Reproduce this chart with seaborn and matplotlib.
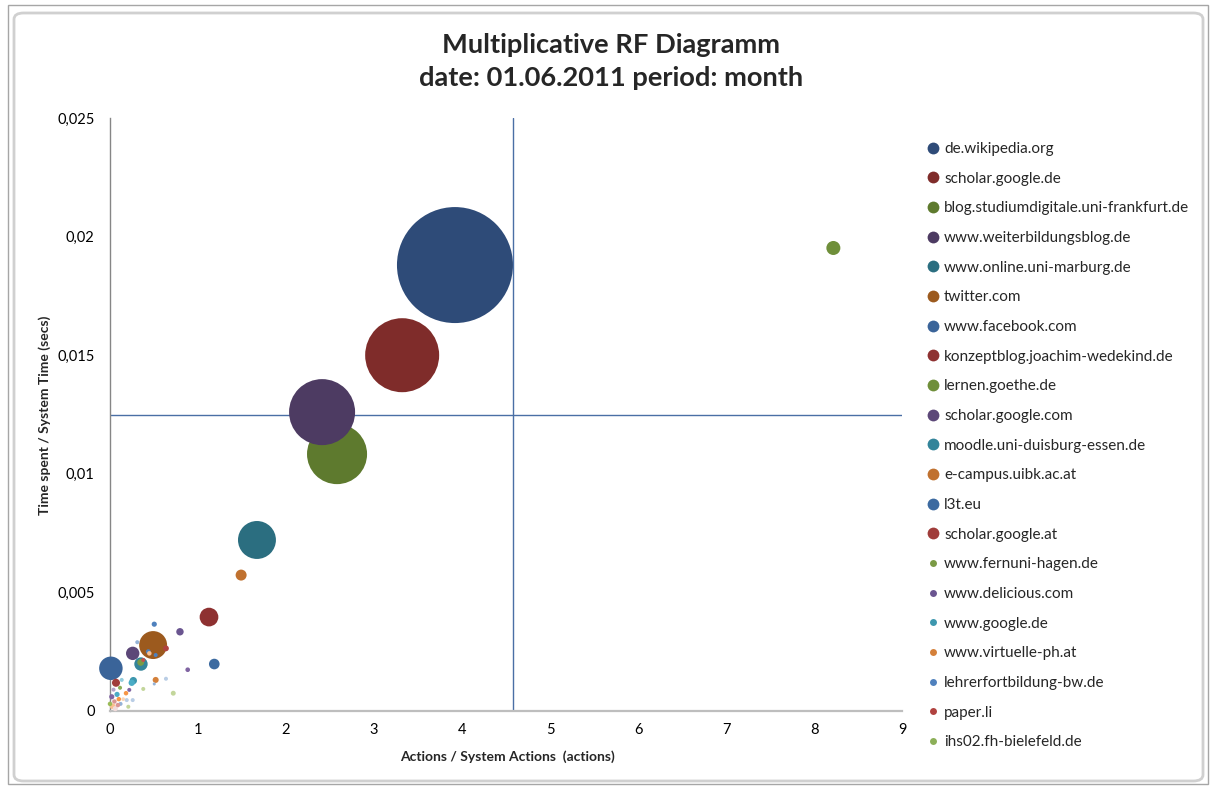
import matplotlib
matplotlib.use("Agg")
import matplotlib.pyplot as plt
from matplotlib.lines import Line2D
from matplotlib.patches import FancyBboxPatch, Rectangle
import pandas as pd
import seaborn as sns

# Named sites (legend order)
sites = [
    "de.wikipedia.org", "scholar.google.de", "blog.studiumdigitale.uni-frankfurt.de",
    "www.weiterbildungsblog.de", "www.online.uni-marburg.de", "twitter.com",
    "www.facebook.com", "konzeptblog.joachim-wedekind.de", "lernen.goethe.de",
    "scholar.google.com", "moodle.uni-duisburg-essen.de", "e-campus.uibk.ac.at",
    "l3t.eu", "scholar.google.at", "www.fernuni-hagen.de", "www.delicious.com",
    "www.google.de", "www.virtuelle-ph.at", "lehrerfortbildung-bw.de", "paper.li",
    "ihs02.fh-bielefeld.de",
]
actions_ratio = [3.92, 3.32, 2.58, 2.41, 1.67, 0.49, 0.01, 1.125, 8.22, 0.258,
                 0.352, 1.49, 1.185, 0.068, 0.349, 0.795, 0.265, 0.519, 0.503,
                 0.636, 0.114]
time_ratio = [0.0188, 0.0150, 0.01083, 0.0126, 0.00721, 0.00278, 0.00180, 0.00396,
              0.01952, 0.00243, 0.00198, 0.00573, 0.00198, 0.00119, 0.00205,
              0.00334, 0.00128, 0.00131, 0.00366, 0.00264, 0.00098]
bubble_weight = [100, 40.7, 26.8, 32.4, 10.7, 5.8, 4.1, 2.6, 1.46, 1.33,
                 1.33, 0.9, 0.84, 0.48, 0.35, 0.41, 0.4, 0.27, 0.2, 0.25, 0.12]
site_colors = [
    "#2E4B78", "#7F2C2A", "#5E7A2E", "#4D3B62", "#2B6E80", "#9C5A1E",
    "#3A6499", "#8E3131", "#6F8F3A", "#5C4778", "#33849A", "#C0712F",
    "#3C6AA0", "#A03C3A", "#7A9A45", "#6A5590", "#3D97AE", "#D4803A",
    "#4F81BD", "#B0423F", "#8CAF58",
]

# Remaining small sites (not listed in the legend)
other_actions = [0.310, 0.435, 0.447, 0.519, 0.378, 0.883, 0.133, 0.247, 0.503,
                 0.636, 0.378, 0.719, 0.219, 0.182, 0.19, 0.258, 0.208, 0.02,
                 0.05, 0.08, 0.10, 0.03, 0.06, 0.12, 0.0, 0.04, 0.15, 0.09]
other_time = [0.00290, 0.00250, 0.00243, 0.00236, 0.00215, 0.00174, 0.00131,
              0.00119, 0.00114, 0.00136, 0.00093, 0.00075, 0.00089, 0.00075,
              0.00046, 0.00046, 0.00018, 0.00060, 0.00040, 0.00070, 0.00050,
              0.00020, 0.00010, 0.00030, 0.00030, 0.00090, 0.00050, 0.00025]
other_weight = [0.12, 0.18, 0.15, 0.12, 0.12, 0.16, 0.12, 0.3, 0.07, 0.12, 0.12,
                0.18, 0.12, 0.15, 0.12, 0.12, 0.12, 0.2, 0.15, 0.2, 0.15, 0.25,
                0.2, 0.12, 0.15, 0.12, 0.1, 0.15]
other_colors = ["#95B3D7", "#4F81BD", "#FAC090", "#4F81BD", "#C0504D", "#8064A2",
                "#93CDDD", "#4BACC6", "#95B3D7", "#B9CDE5", "#C3D69B", "#C3D69B",
                "#8064A2", "#F79646", "#B9CDE5", "#B9CDE5", "#C3D69B", "#8064A2",
                "#D99694", "#4BACC6", "#F79646", "#FAC090", "#F2DCDB", "#95B3D7",
                "#9BBB59", "#B3A2C7", "#FCD5B5", "#D99694"]

x_ticks = [0, 1, 2, 3, 4, 5, 6, 7, 8, 9]
y_ticks = [0, 0.005, 0.01, 0.015, 0.02, 0.025]
y_tick_labels = ["0", "0,005", "0,01", "0,015", "0,02", "0,025"]
mean_actions = 4.58
mean_time = 0.01248

title = "Multiplicative RF Diagramm\ndate: 01.06.2011 period: month"
x_label = "Actions / System Actions  (actions)"
y_label = "Time spent / System Time (secs)"

sns.set_theme(style="white")
plt.rcParams["font.family"] = ["Lato", "DejaVu Sans"]

other_keys = [f"site_{i}" for i in range(len(other_actions))]
df = pd.DataFrame({
    "key": sites + other_keys,
    "x": actions_ratio + other_actions,
    "y": time_ratio + other_time,
    "w": bubble_weight + other_weight,
})
palette = dict(zip(sites + other_keys, site_colors + other_colors))

W, H = 1212, 787
fig = plt.figure(figsize=(W / 100, H / 100), dpi=100)

# chart frame
fig.patches.append(Rectangle((8 / W, 3 / H), 1200 / W, 779 / H, transform=fig.transFigure,
                             fill=False, edgecolor="#A6A6A6", linewidth=1.0))
fig.patches.append(FancyBboxPatch((14 / W, 6 / H), 1189 / W, 768 / H,
                                  boxstyle="round,pad=0,rounding_size=0.008",
                                  transform=fig.transFigure, fill=False,
                                  edgecolor="#D0D0D0", linewidth=2.0))

L, R, T, B = 110, 902, 118, 711
ax = fig.add_axes([L / W, 1 - B / H, (R - L) / W, (B - T) / H])

max_area = (116 * 0.72) ** 2
sns.scatterplot(data=df, x="x", y="y", hue="key", palette=palette,
                size="w", sizes=(0, max_area), size_norm=(0, 100),
                linewidth=0, legend=False, ax=ax, clip_on=False, zorder=3)

ax.axvline(mean_actions, color="#4A6FA5", linewidth=1.0, zorder=2)
ax.axhline(mean_time, color="#4A6FA5", linewidth=1.0, zorder=2)

ax.set_xlim(0, 9)
ax.set_ylim(0, 0.025)
ax.set_xticks(x_ticks)
ax.set_xticklabels([str(t) for t in x_ticks])
ax.set_yticks(y_ticks)
ax.set_yticklabels(y_tick_labels)
ax.tick_params(axis="both", length=0, labelsize=10.5, colors="#000000")
ax.tick_params(axis="y", pad=11)
ax.tick_params(axis="x", pad=9)
for side in ["top", "right"]:
    ax.spines[side].set_visible(False)
ax.spines["left"].set_color("#868686")
ax.spines["left"].set_linewidth(1.0)
ax.spines["bottom"].set_color("#BEBEBE")
ax.spines["bottom"].set_linewidth(1.6)

ax.set_xlabel(x_label, fontsize=10, fontweight="bold", va="center")
ax.xaxis.set_label_coords((507 - L) / (R - L), (B - 757) / (B - T))
ax.set_ylabel(y_label, fontsize=10, fontweight="bold", va="center", ha="center")
ax.yaxis.set_label_coords((45 - L) / (R - L), (B - 415) / (B - T))

fig.text(611 / W, 1 - 61.5 / H, title, ha="center", va="center", fontsize=19.6,
         fontweight="bold", linespacing=1.45)

handles = []
for i, (name, col) in enumerate(zip(sites, site_colors)):
    ms = 8.5 if i < 14 else 5.0
    handles.append(Line2D([], [], marker="o", linestyle="", markersize=ms,
                          markerfacecolor=col, markeredgewidth=0, label=name))
fig.legend(handles=handles, loc="upper left", bbox_to_anchor=(928 / W, 1 - 142 / H),
           frameon=False, fontsize=11, labelspacing=1.025, handlelength=0.7,
           handletextpad=0.35, borderaxespad=0, borderpad=0)

fig.savefig("out.png", dpi=100)
